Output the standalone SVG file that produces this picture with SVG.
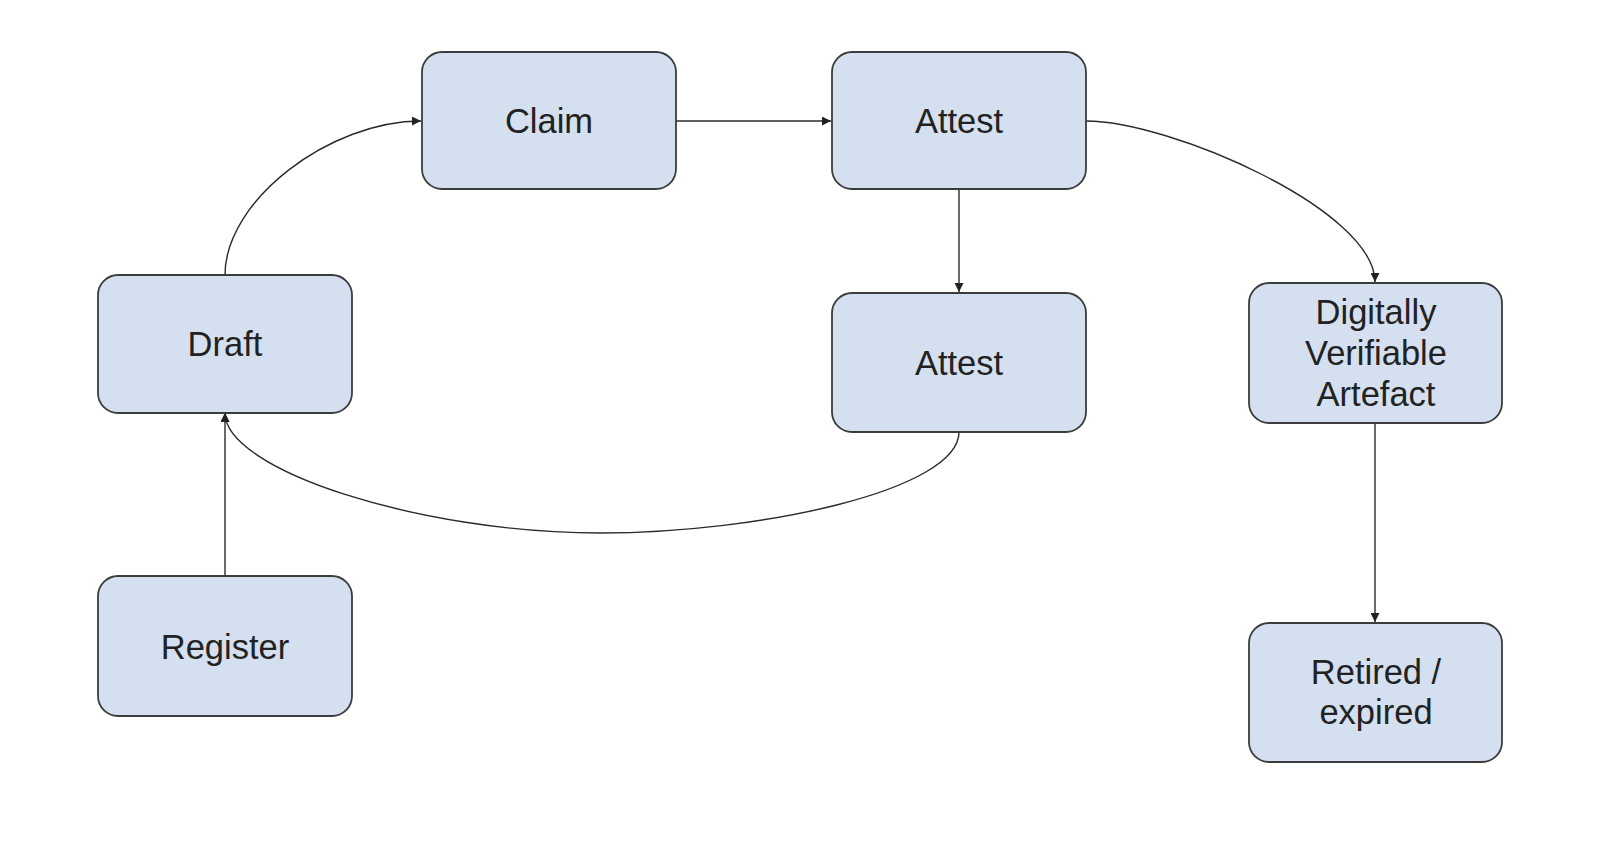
<svg xmlns="http://www.w3.org/2000/svg" width="1608" height="846" viewBox="0 0 1608 846">
<defs>
<style>
.box{fill:#d4e0f0;stroke:#3c3c3c;stroke-width:1.8}
.lbl{font-family:"Liberation Sans",Arial,sans-serif;font-size:34.5px;fill:#222;text-anchor:middle}
.edge{fill:none;stroke:#2a2a2a;stroke-width:1.4;marker-end:url(#arr)}
</style>
<marker id="arr" markerUnits="userSpaceOnUse" markerWidth="10" markerHeight="9" refX="9" refY="4.5" orient="auto">
<path d="M0,0 L9,4.5 L0,9 Z" fill="#222"/>
</marker>
</defs>
<rect width="1608" height="846" fill="#fff"/>
<g id="connectors">
<path class="edge" d="M225,275 C225,200 330,121 421,121"/>
<path class="edge" d="M676,121 L831,121"/>
<path class="edge" d="M959,189 L959,292"/>
<path class="edge" d="M1086,121 C1170,121 1375,210 1375,282"/>
<path class="edge" d="M959,432 C959,490 760,533 600,533 C420,533 225,470 225,413"/>
<path class="edge" d="M1375,423 L1375,622"/>
<path class="edge" d="M225,576 L225,413"/>
</g>
<g id="claim"><rect class="box" x="422" y="52" width="254" height="137" rx="20"/><text class="lbl" x="549" y="133">Claim</text></g>
<g id="attest"><rect class="box" x="832" y="52" width="254" height="137" rx="20"/><text class="lbl" x="959" y="133">Attest</text></g>
<g id="draft"><rect class="box" x="98" y="275" width="254" height="138" rx="20"/><text class="lbl" x="225" y="356">Draft</text></g>
<g id="attest2"><rect class="box" x="832" y="293" width="254" height="139" rx="20"/><text class="lbl" x="959" y="375">Attest</text></g>
<g id="dva"><rect class="box" x="1249" y="283" width="253" height="140" rx="20"/><text class="lbl" x="1376" y="324">Digitally</text><text class="lbl" x="1376" y="365">Verifiable</text><text class="lbl" x="1376" y="406">Artefact</text></g>
<g id="register"><rect class="box" x="98" y="576" width="254" height="140" rx="20"/><text class="lbl" x="225" y="659">Register</text></g>
<g id="retired"><rect class="box" x="1249" y="623" width="253" height="139" rx="20"/><text class="lbl" x="1376" y="684">Retired /</text><text class="lbl" x="1376" y="724">expired</text></g>
</svg>
